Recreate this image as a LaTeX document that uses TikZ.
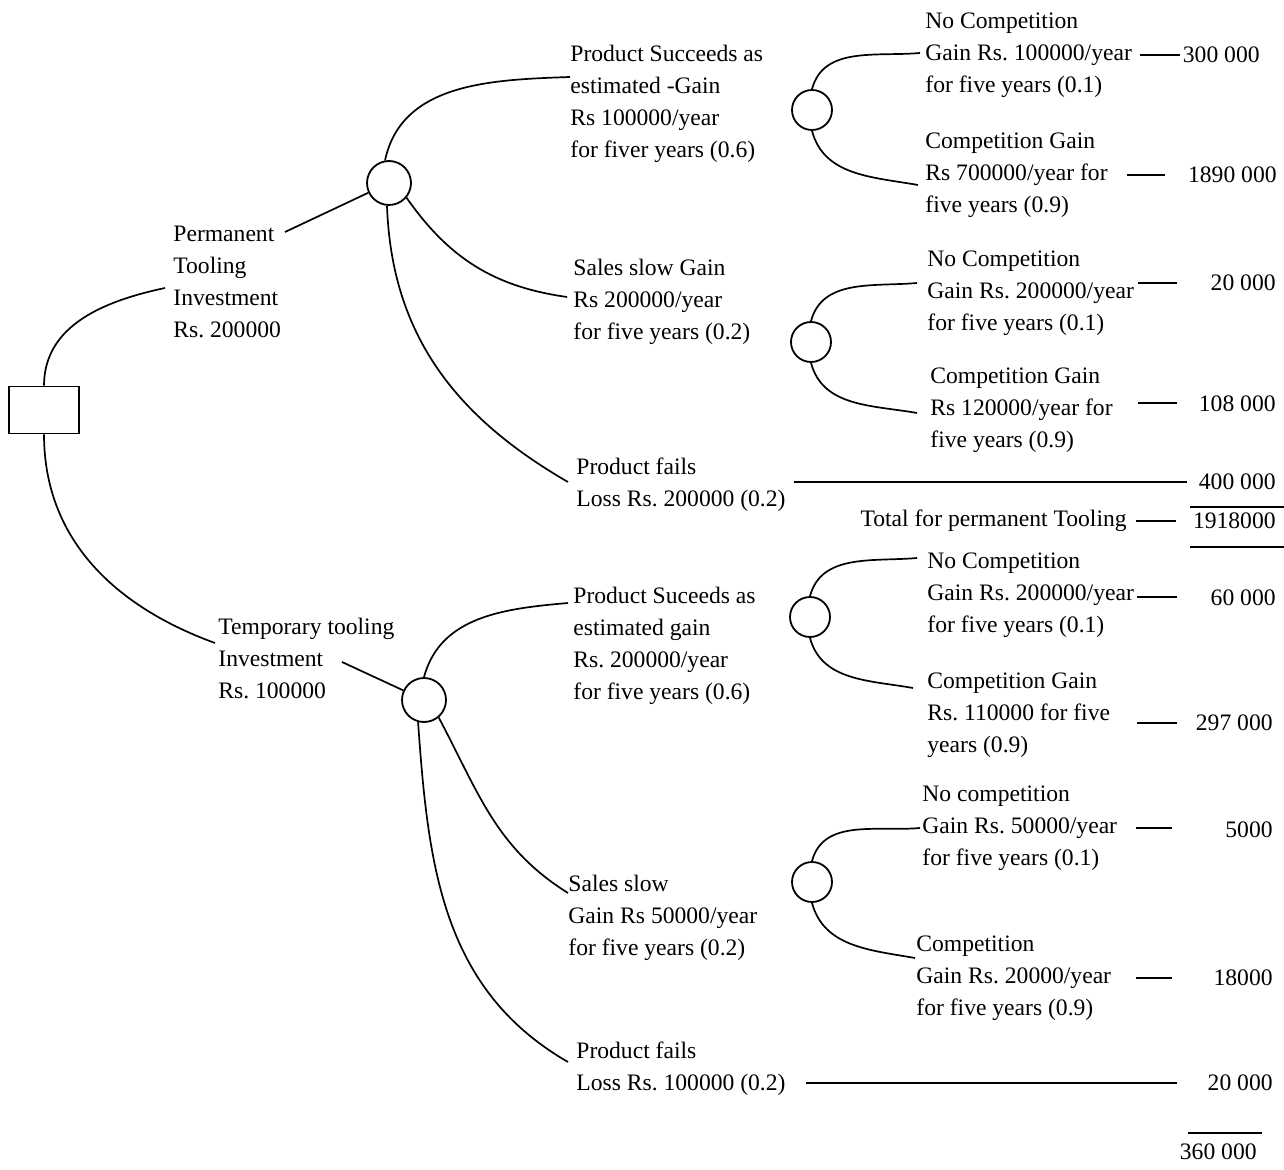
\documentclass[tikz,border=0pt]{standalone}
\usepackage{fontspec}
\setmainfont{Liberation Serif}
\frenchspacing
\tikzset{chance/.style={circle,draw,line width=0.9pt,minimum size=20pt,inner sep=0pt},
         big chance/.style={chance,minimum size=22pt},
         decision/.style={rectangle,draw,line width=0.8pt,minimum width=35pt,minimum height=23.5pt,inner sep=0pt},
         lbl/.style={align=left,anchor=west,inner sep=0pt},
         val/.style={anchor=east,inner sep=0pt},
         branch/.style={line width=0.85pt},
         rule line/.style={line width=0.75pt},
}

\begin{document}
\begin{tikzpicture}[x=0.5pt,y=0.5pt,font=\fontsize{11.8}{16}\selectfont]
\useasboundingbox (0,0) rectangle (1284,-1170);

% decision node and chance nodes
\node[decision] (d) at (44,-410) {};
\node[big chance] (c1) at (389,-183) {};
\node[big chance] (c2) at (424,-700) {};
\node[chance] (c11) at (812,-110) {};
\node[chance] (c12) at (811,-342) {};
\node[chance] (c21) at (810,-617) {};
\node[chance] (c22) at (812,-882) {};

% labels
\node[lbl] (pl) at (173,-282) {Permanent\\Tooling\\Investment\\Rs. 200000};
\node[lbl] (tl) at (218,-658) {Temporary tooling\\Investment\\Rs. 100000};
\node[lbl] (l11) at (570,-104) {Product Succeeds as\\estimated -Gain\\Rs 100000/year\\for fiver years (0.6)};
\node[lbl] (l12) at (573,-302) {Sales slow Gain\\Rs 200000/year\\for five years (0.2)};
\node[lbl] (l13) at (576,-485) {Product fails\\Loss Rs. 200000 (0.2)};
\node[lbl] (l21) at (573,-646) {Product Suceeds as\\estimated gain\\Rs. 200000/year\\for five years (0.6)};
\node[lbl] (l22) at (568,-918) {Sales slow\\Gain Rs 50000/year\\for five years (0.2)};
\node[lbl] (l23) at (576,-1069) {Product fails\\Loss Rs. 100000 (0.2)};
\node[lbl] (m11) at (925,-55) {No Competition\\Gain Rs. 100000/year\\for five years (0.1)};
\node[lbl] (m12) at (925,-175) {Competition Gain\\Rs 700000/year for\\five years (0.9)};
\node[lbl] (m13) at (927,-293) {No Competition\\Gain Rs. 200000/year\\for five years (0.1)};
\node[lbl] (m14) at (930,-410) {Competition Gain\\Rs 120000/year for\\five years (0.9)};
\node[lbl] (m21) at (927,-595) {No Competition\\Gain Rs. 200000/year\\for five years (0.1)};
\node[lbl] (m22) at (927,-715) {Competition Gain\\Rs. 110000 for five\\years (0.9)};
\node[lbl] (m23) at (922,-828) {No competition\\Gain Rs. 50000/year\\for five years (0.1)};
\node[lbl] (m24) at (916,-978) {Competition\\Gain Rs. 20000/year\\for five years (0.9)};
\node[val] (tot) at (1127,-521) {Total for permanent Tooling};

% pay-offs
\node[val] (v11) at (1260,-55) {300 000};
\node[val] (v12) at (1277,-175) {1890 000};
\node[val] (v13) at (1276,-283) {20 000};
\node[val] (v14) at (1276,-404) {108 000};
\node[val] (v15) at (1276,-482) {400 000};
\node[val] (vt1) at (1276,-521) {1918000};
\node[val] (v21) at (1276,-598) {60 000};
\node[val] (v22) at (1273,-723) {297 000};
\node[val] (v23) at (1273,-830) {5000};
\node[val] (v24) at (1273,-978) {18000};
\node[val] (v25) at (1273,-1083) {20 000};
\node[val] (vt2) at (1257,-1152) {360 000};

% decision branches
\draw[branch] (d.north) to[out=90,in=192] (165,-288);
\draw[branch] (d.south) to[out=-90,in=160] (215,-643);
\draw[branch] (285,-232) -- (c1);
\draw[branch] (342,-662) -- (c2);

% first chance node
\draw[branch] (c1.100) to[out=78,in=182] (570,-77);
\draw[branch] (c1.-40) to[out=-55,in=172] (567,-297);
\draw[branch] (c1.-95) to[out=-88,in=150] (568,-482);
\draw[branch] (c11.north) to[out=75,in=185] (920,-53);
\draw[branch] (c11.south) to[out=-75,in=170] (918,-185);
\draw[branch] (c12.north) to[out=75,in=185] (917,-283);
\draw[branch] (c12.south) to[out=-75,in=170] (917,-413);

% second chance node
\draw[branch] (c2.north) to[out=75,in=185] (568,-603);
\draw[branch] (c2.-50) to[out=-62,in=148] (568,-893);
\draw[branch] (c2.-105) to[out=-86,in=150] (568,-1062);
\draw[branch] (c21.north) to[out=75,in=185] (917,-558);
\draw[branch] (c21.south) to[out=-75,in=170] (913,-688);
\draw[branch] (c22.north) to[out=75,in=185] (920,-828);
\draw[branch] (c22.south) to[out=-75,in=170] (915,-958);

% loss lines
\draw[rule line] ([xshift=4pt]l13.east |- v15.west) -- ([xshift=-6pt]v15.west);
\draw[rule line] ([xshift=10pt]l23.east |- v25.west) -- ([xshift=-15pt]v25.west);

% dashes before the pay-offs
\foreach \a/\b/\y in {1140/1180/-55, 1127/1165/-175, 1138/1177/-283, 1138/1177/-403,
                     1136/1176/-521, 1137/1177/-597, 1137/1177/-723, 1136/1172/-828, 1136/1172/-978}
  \draw[rule line] (\a,\y) -- (\b,\y);

% totals
\draw[rule line] (1190,-507) -- (1284,-507);
\draw[rule line] (1190,-547) -- (1284,-547);
\draw[rule line] (1188,-1133) -- (1262,-1133);
\end{tikzpicture}
\end{document}
